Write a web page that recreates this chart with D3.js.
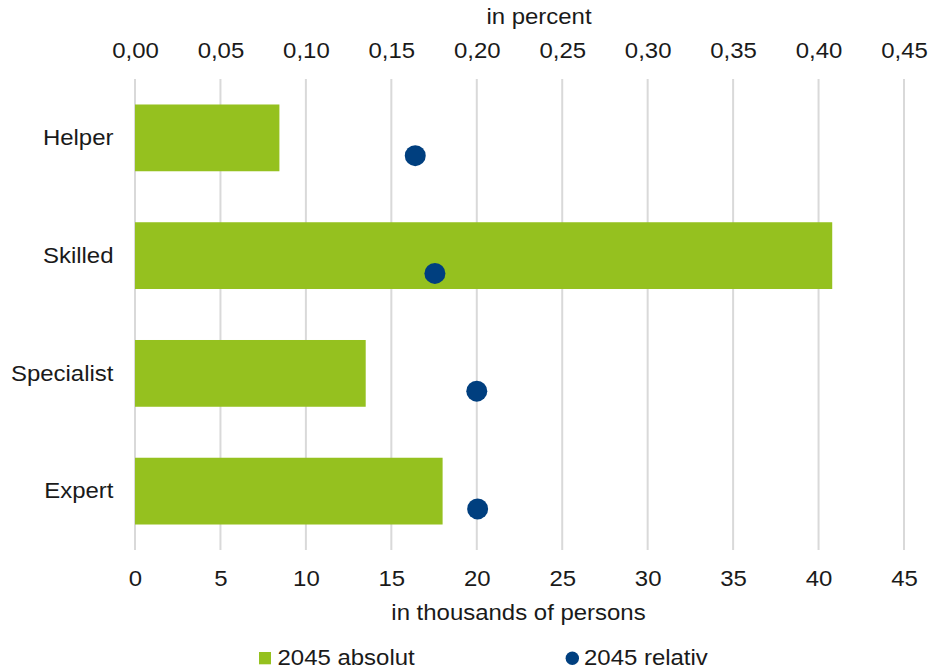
<!DOCTYPE html>
<html>
<head>
<meta charset="utf-8">
<script src="https://cdn.jsdelivr.net/npm/d3@7"></script>
<style>
  html, body { margin: 0; padding: 0; background: #fff; }
  svg text { font-family: "Liberation Sans", Arial, sans-serif; fill: #1a1a1a; transform-box: fill-box; }
  /* slightly widened lettering */
  svg text.wide-c { transform: scaleX(1.065); transform-origin: 50% 50%; }
  svg text.wide-r { transform: scaleX(1.065); transform-origin: 100% 50%; }
  svg text.wide-l { transform: scaleX(1.065); transform-origin: 0% 50%; }
</style>
</head>
<body>
<svg id="chart" width="930" height="668"></svg>
<script>
// Occupational levels, top to bottom
const categories = ["Helper", "Skilled", "Specialist", "Expert"];
// 2045 absolute change, thousands of persons (bottom axis)
const absoluteValues = [8.45, 40.8, 13.5, 18.0];
// 2045 relative change, percent (top axis)
const relativeValues = [0.164, 0.1755, 0.200, 0.2005];
// Tick values
const bottomTicks = [0, 5, 10, 15, 20, 25, 30, 35, 40, 45];
const topTicks = [0, 0.05, 0.10, 0.15, 0.20, 0.25, 0.30, 0.35, 0.40, 0.45];
const seriesNames = ["2045 absolut", "2045 relativ"];

(function draw() {
  const GREEN = "#95c11f";
  const NAVY = "#003f7f";
  const FONT = 22.5;

  const svg = d3.select("#chart");
  const plotL = 135, plotR = 904, plotT = 79, plotB = 550;

  const xAbs = d3.scaleLinear().domain([0, 45]).range([plotL, plotR]);
  const xRel = d3.scaleLinear().domain([0, 0.45]).range([plotL, plotR]);
  const y = d3.scaleBand().domain(categories).range([plotT, plotB])
    .paddingInner(0.433).paddingOuter(0.2165);

  // vertical gridlines
  svg.append("g").selectAll("line").data(bottomTicks).join("line")
    .attr("x1", d => xAbs(d)).attr("x2", d => xAbs(d))
    .attr("y1", plotT).attr("y2", plotB)
    .attr("stroke", "#d9d9d9").attr("stroke-width", 2);

  // bars
  svg.append("g").selectAll("rect").data(categories).join("rect")
    .attr("x", xAbs(0))
    .attr("y", d => y(d))
    .attr("width", (d, i) => xAbs(absoluteValues[i]) - xAbs(0))
    .attr("height", y.bandwidth())
    .attr("fill", GREEN);

  // dots, drawn slightly below each bar's centre line
  svg.append("g").selectAll("circle").data(categories).join("circle")
    .attr("cx", (d, i) => xRel(relativeValues[i]))
    .attr("cy", d => y(d) + y.bandwidth() / 2 + y.step() * 0.151)
    .attr("r", 10.5)
    .attr("fill", NAVY);

  const fmtComma = d => d3.format(".2f")(d).replace(".", ",");

  // bottom axis
  const bAxis = svg.append("g").attr("transform", `translate(0,${plotB})`)
    .call(d3.axisBottom(xAbs).tickValues(bottomTicks).tickSize(0).tickPadding(20).tickFormat(d3.format("d")));
  bAxis.select(".domain").remove();
  bAxis.selectAll("text").attr("font-size", FONT).attr("font-family", null).attr("class", "wide-c");

  // top axis
  const tAxis = svg.append("g").attr("transform", `translate(0,${plotT})`)
    .call(d3.axisTop(xRel).tickValues(topTicks).tickSize(0).tickPadding(21).tickFormat(fmtComma));
  tAxis.select(".domain").remove();
  tAxis.selectAll("text").attr("font-size", FONT).attr("font-family", null).attr("class", "wide-c");

  // category axis
  const cAxis = svg.append("g").attr("transform", `translate(${plotL},0)`)
    .call(d3.axisLeft(y).tickSize(0).tickPadding(21.5));
  cAxis.select(".domain").remove();
  cAxis.selectAll("text").attr("font-size", FONT).attr("font-family", null).attr("class", "wide-r");

  // axis titles
  svg.append("text").attr("class", "wide-c").attr("x", (plotL + plotR) / 2 + 19.5).attr("y", 24)
    .attr("text-anchor", "middle").attr("font-size", FONT).text("in percent");
  svg.append("text").attr("class", "wide-c").attr("x", (plotL + plotR) / 2 - 1).attr("y", 620)
    .attr("text-anchor", "middle").attr("font-size", FONT).text("in thousands of persons");

  // legend
  const lg = svg.append("g");
  lg.append("rect").attr("x", 259).attr("y", 652).attr("width", 12).attr("height", 12.3).attr("fill", GREEN);
  lg.append("text").attr("class", "wide-l").attr("x", 277.5).attr("y", 665.5).attr("font-size", FONT).text(seriesNames[0]);
  lg.append("circle").attr("cx", 572.3).attr("cy", 658.3).attr("r", 6.7).attr("fill", NAVY);
  lg.append("text").attr("class", "wide-l").attr("x", 584).attr("y", 665.5).attr("font-size", FONT).text(seriesNames[1]);
})();
</script>
</body>
</html>
